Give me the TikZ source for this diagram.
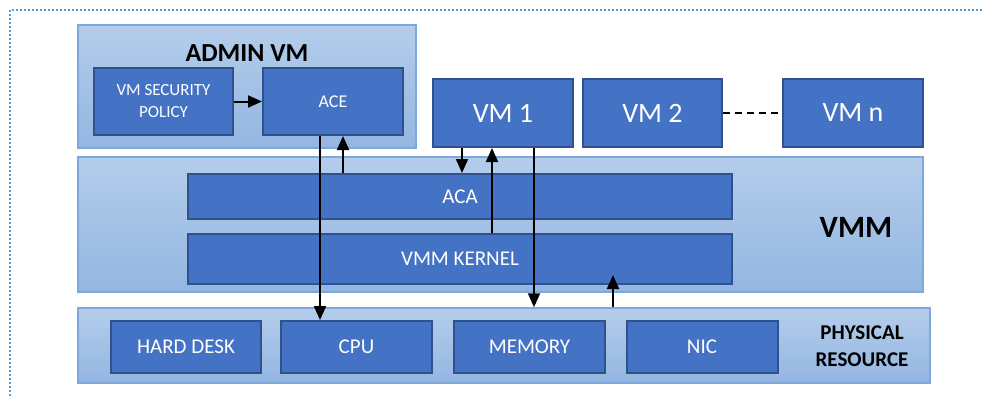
\documentclass[tikz,border=0pt]{standalone}
\usepackage{fontspec}
\setmainfont{Carlito}
\usetikzlibrary{positioning}
\usetikzlibrary{arrows.meta}
\definecolor{boxblue}{HTML}{4472C4}
\definecolor{boxedge}{HTML}{2F528F}
\definecolor{paletop}{HTML}{B4CDEB}
\definecolor{palebot}{HTML}{93B6E1}
\definecolor{paleedge}{HTML}{7EA8DB}
\definecolor{frameblue}{HTML}{5B9BD5}
\tikzset{
    layer/.style = {rectangle, draw=paleedge, line width=1.5pt, top color=paletop, bottom color=palebot},
    unit/.style = {rectangle, draw=boxedge, line width=2pt, fill=boxblue, text=white, align=center, font=\fontsize{21}{24}\selectfont},
    vmbox/.style = {unit, minimum width=140pt, minimum height=68pt, font=\fontsize{28}{32}\selectfont},
    hwbox/.style = {unit, minimum width=151pt, minimum height=52pt},
    title/.style = {text=black, align=center, font=\bfseries\fontsize{26}{29}\selectfont},
    edgen/.style = {-{Triangle[length=14pt,width=12pt]}, line width=2pt, black},
    edged/.style = {line width=2pt, black, dash pattern=on 7pt off 5pt}
}
\begin{document}
\begin{tikzpicture}[x=1pt,y=-1pt]
\useasboundingbox (0,0) rectangle (983,396);
\draw[frameblue, line width=2pt, dash pattern=on 2pt off 2pt] (10,396) -- (10,10) -- (983,10);
%
\node[layer, minimum width=338pt, minimum height=123pt] at (247,86.5) (admin) {};
\node[layer, minimum width=845pt, minimum height=135pt] at (500.5,224.5) (vmm) {};
\node[layer, minimum width=852pt, minimum height=75pt] at (504,345.5) (phys) {};
%
\node[title] at (247,53) (admintitle) {ADMIN VM};
\node[unit, minimum width=139pt, minimum height=67pt, font=\fontsize{17}{22}\selectfont] at (163.5,101.5) (secpol) {VM SECURITY\\POLICY};
\node[unit, minimum width=140pt, minimum height=67pt, font=\fontsize{18}{21}\selectfont] at (333,101.5) (ace) {ACE};
%
\node[vmbox] at (503,113) (vm1) {VM 1};
\node[vmbox, minimum width=139pt] at (652.5,113) (vm2) {VM 2};
\node[vmbox] at (853,113) (vmn) {VM n};
%
\node[unit, minimum width=544pt, minimum height=45pt] at (460,196.5) (aca) {ACA};
\node[unit, minimum width=544pt, minimum height=50pt] at (460,259) (kernel) {VMM KERNEL};
\node[title, font=\bfseries\fontsize{31}{34}\selectfont] at (856,227) (vmmtitle) {VMM};
%
\node[hwbox, minimum width=150pt] at (186,347) (hdd) {HARD DESK};
\node[hwbox] at (356.5,347) (cpu) {CPU};
\node[hwbox] at (529.5,347) (mem) {MEMORY};
\node[hwbox] at (702,347) (nic) {NIC};
\node[title, font=\bfseries\fontsize{21}{27}\selectfont] at (862,346) (phystitle) {PHYSICAL\\RESOURCE};
%
\coordinate (nicin) at (613,275);
%
\draw[edgen] (secpol) -- (ace);
\draw[edged] (vm2) -- (vmn);
\draw[edgen] ([xshift=58pt]ace.south west) -- ([xshift=58pt]ace.south west |- cpu.north);
\draw[edgen] ([xshift=81pt]ace.south west |- aca.north) -- ([xshift=81pt]ace.south west);
\draw[edgen] ([xshift=30pt]vm1.south west) -- ([xshift=30pt]vm1.south west |- aca.north);
\draw[edgen] ([xshift=60pt]vm1.south west |- kernel.north) -- ([xshift=60pt]vm1.south west);
\draw[edgen] ([xshift=102pt]vm1.south west) -- ([xshift=102pt]vm1.south west |- phys.north);
\draw[edgen] (nicin |- phys.north) -- (nicin);
\end{tikzpicture}
\end{document}
